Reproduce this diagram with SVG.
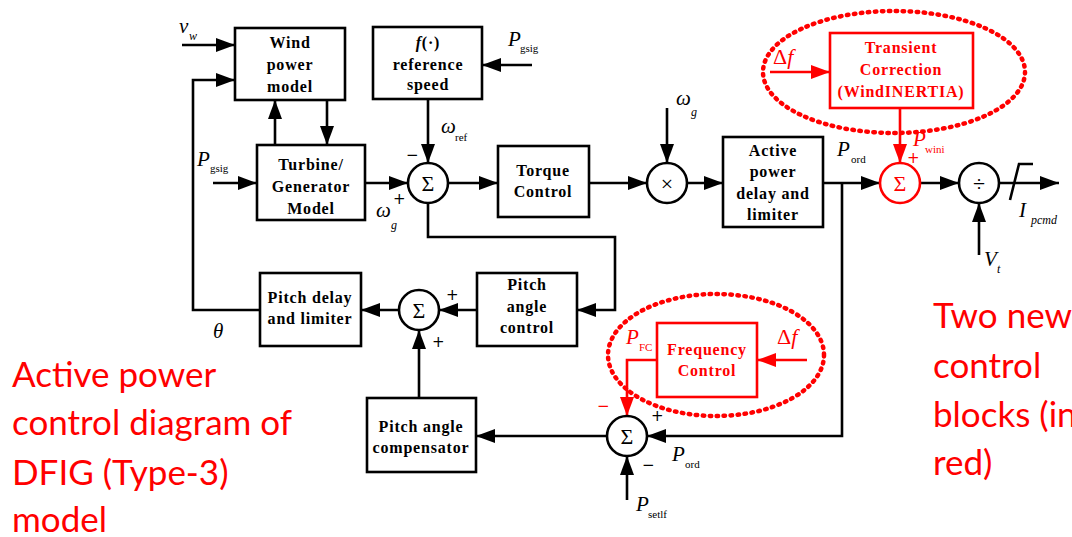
<svg xmlns="http://www.w3.org/2000/svg" width="1072" height="537" viewBox="0 0 1072 537">
<defs>
<marker id="ah" markerUnits="userSpaceOnUse" markerWidth="20" markerHeight="14" refX="19" refY="7" orient="auto"><path d="M0,0 L19,7 L0,14 z" fill="#000"/></marker>
<marker id="ahr" markerUnits="userSpaceOnUse" markerWidth="20" markerHeight="14" refX="19" refY="7" orient="auto"><path d="M0,0 L19,7 L0,14 z" fill="#f00"/></marker>
<style>
.box{fill:#fff;stroke:#000;stroke-width:2.6}
.rbox{fill:#fff;stroke:#f00;stroke-width:2.6}
.cir{fill:#fff;stroke:#000;stroke-width:2.6}
.rcir{fill:#fff;stroke:#f00;stroke-width:2.6}
.ln{fill:none;stroke:#000;stroke-width:2.6}
.rln{fill:none;stroke:#f00;stroke-width:2.6}
.ell{fill:none;stroke:#f00;stroke-width:4.5;stroke-dasharray:1.5 5.5;stroke-linecap:round}
.bt{font-family:"Liberation Serif",serif;font-weight:bold;font-size:16px;letter-spacing:0.8px;text-anchor:middle;fill:#000}
.rbt{font-family:"Liberation Serif",serif;font-weight:bold;font-size:16px;letter-spacing:0.8px;text-anchor:middle;fill:#f00}
.m{font-family:"Liberation Serif",serif;font-style:italic;font-size:21px;fill:#000}
.up{font-family:"Liberation Serif",serif;font-size:22px;fill:#f00}
.s{font-family:"Liberation Serif",serif;font-size:11px;fill:#000}
.si{font-family:"Liberation Serif",serif;font-style:italic;font-size:12px;fill:#000}
.sym{font-family:"Liberation Serif",serif;font-size:22px;text-anchor:middle;fill:#000}
.pm{font-family:"DejaVu Sans",sans-serif;font-size:15px;fill:#000}
.big{font-family:Lato,"Open Sans",sans-serif;font-size:35px;fill:#f00}
</style>
</defs>

<g id="connectors">
<line class="ln" x1="182" y1="45" x2="235" y2="45" marker-end="url(#ah)"/>
<polyline class="ln" points="260,310 193,310 193,80 235,80" marker-end="url(#ah)"/>
<line class="ln" x1="275" y1="145" x2="275" y2="100" marker-end="url(#ah)"/>
<line class="ln" x1="327" y1="100" x2="327" y2="145" marker-end="url(#ah)"/>
<line class="ln" x1="213" y1="183" x2="257" y2="183" marker-end="url(#ah)"/>
<line class="ln" x1="365" y1="183" x2="408" y2="183" marker-end="url(#ah)"/>
<line class="ln" x1="532" y1="65" x2="482" y2="65" marker-end="url(#ah)"/>
<line class="ln" x1="428" y1="99" x2="428" y2="163" marker-end="url(#ah)"/>
<line class="ln" x1="448" y1="183" x2="498" y2="183" marker-end="url(#ah)"/>
<polyline class="ln" points="428,203 428,237 615,237 615,310 577,310" marker-end="url(#ah)"/>
<line class="ln" x1="589" y1="183" x2="647" y2="183" marker-end="url(#ah)"/>
<line class="ln" x1="667" y1="108" x2="667" y2="163" marker-end="url(#ah)"/>
<line class="ln" x1="687" y1="183" x2="723" y2="183" marker-end="url(#ah)"/>
<line class="ln" x1="823" y1="183" x2="880" y2="183" marker-end="url(#ah)"/>
<polyline class="ln" points="842,183 842,436 647,436" marker-end="url(#ah)"/>
<line class="ln" x1="920" y1="183" x2="959" y2="183" marker-end="url(#ah)"/>
<line class="ln" x1="999" y1="183" x2="1059" y2="183" marker-end="url(#ah)"/>
<polyline class="ln" points="1010,200 1019,164 1033,164"/>
<line class="ln" x1="979" y1="255" x2="979" y2="203" marker-end="url(#ah)"/>
<line class="ln" x1="477" y1="310" x2="439" y2="310" marker-end="url(#ah)"/>
<line class="ln" x1="399" y1="310" x2="361" y2="310" marker-end="url(#ah)"/>
<line class="ln" x1="419" y1="398" x2="419" y2="330" marker-end="url(#ah)"/>
<line class="ln" x1="607" y1="436" x2="476" y2="436" marker-end="url(#ah)"/>
<line class="ln" x1="627" y1="500" x2="627" y2="456" marker-end="url(#ah)"/>
<line class="rln" x1="770" y1="72" x2="830" y2="72" marker-end="url(#ahr)"/>
<line class="rln" x1="900" y1="108" x2="900" y2="163" marker-end="url(#ahr)"/>
<line class="rln" x1="807" y1="360" x2="757" y2="360" marker-end="url(#ahr)"/>
<polyline class="rln" points="657,360 627,360 627,416" marker-end="url(#ahr)"/>
</g>

<g id="wind-power-model"><rect class="box" x="235" y="28" width="110" height="72"/>
<text class="bt" x="290" y="48">Wind</text><text class="bt" x="290" y="70">power</text><text class="bt" x="290" y="92">model</text></g>

<g id="reference-speed"><rect class="box" x="373" y="27" width="109" height="72"/>
<text class="bt" x="428" y="48"><tspan font-style="italic">f</tspan>(·)</text><text class="bt" x="428" y="70">reference</text><text class="bt" x="428" y="90">speed</text></g>

<g id="turbine-generator"><rect class="box" x="257" y="145" width="108" height="75"/>
<text class="bt" x="311" y="170">Turbine/</text><text class="bt" x="311" y="192">Generator</text><text class="bt" x="311" y="214">Model</text></g>

<g id="sum1"><circle class="cir" cx="428" cy="183" r="20"/><text class="sym" x="428" y="191">Σ</text></g>

<g id="torque-control"><rect class="box" x="498" y="146" width="91" height="71"/>
<text class="bt" x="543" y="176">Torque</text><text class="bt" x="543" y="197">Control</text></g>

<g id="multiply"><circle class="cir" cx="667" cy="183" r="20"/><text class="sym" x="667" y="191">×</text></g>

<g id="active-power-delay"><rect class="box" x="723" y="137" width="100" height="90"/>
<text class="bt" x="773" y="156">Active</text><text class="bt" x="773" y="177">power</text><text class="bt" x="773" y="199">delay and</text><text class="bt" x="773" y="220">limiter</text></g>

<g id="sum-wini"><circle class="rcir" cx="900" cy="183" r="20"/><text class="sym" x="900" y="191" style="fill:#f00">Σ</text></g>

<g id="divide"><circle class="cir" cx="979" cy="183" r="20"/><text class="sym" x="979" y="191">÷</text></g>

<g id="transient-correction"><ellipse class="ell" cx="894" cy="72" rx="131" ry="61"/>
<rect class="rbox" x="830" y="33" width="143" height="75"/>
<text class="rbt" x="901" y="53">Transient</text><text class="rbt" x="901" y="75">Correction</text><text class="rbt" x="901" y="97">(WindINERTIA)</text></g>

<g id="pitch-delay"><rect class="box" x="260" y="273" width="101" height="73"/>
<text class="bt" x="310" y="303">Pitch delay</text><text class="bt" x="310" y="324">and limiter</text></g>

<g id="pitch-sum"><circle class="cir" cx="419" cy="310" r="20"/><text class="sym" x="419" y="318">Σ</text></g>

<g id="pitch-angle-control"><rect class="box" x="477" y="273" width="100" height="73"/>
<text class="bt" x="527" y="290">Pitch</text><text class="bt" x="527" y="312">angle</text><text class="bt" x="527" y="333">control</text></g>

<g id="pitch-angle-compensator"><rect class="box" x="367" y="398" width="109" height="74"/>
<text class="bt" x="421" y="432">Pitch angle</text><text class="bt" x="421" y="453">compensator</text></g>

<g id="sum-bottom"><circle class="cir" cx="627" cy="436" r="20"/><text class="sym" x="627" y="444">Σ</text></g>

<g id="frequency-control"><ellipse class="ell" cx="716" cy="355" rx="108" ry="61"/>
<rect class="rbox" x="657" y="323" width="100" height="74"/>
<text class="rbt" x="707" y="355">Frequency</text><text class="rbt" x="707" y="376">Control</text></g>

<g id="labels">
<text class="m" x="179" y="33">v</text><text class="si" x="189" y="40">w</text>
<text class="m" x="508" y="46">P</text><text class="s" x="520" y="52">gsig</text>
<text class="m" x="197" y="166">P</text><text class="s" x="210" y="172">gsig</text>
<text class="m" x="441" y="133">ω</text><text class="s" x="455" y="141">ref</text>
<text class="pm" x="406" y="160">−</text>
<text class="m" x="376" y="217">ω</text><text class="si" x="391" y="229">g</text>
<text class="pm" x="393" y="204">+</text>
<text class="m" x="676" y="105">ω</text><text class="si" x="691" y="116">g</text>
<text class="m" x="837" y="156">P</text><text class="s" x="851" y="163">ord</text>
<text class="m" x="913" y="146" style="fill:#f00">P</text><text class="s" x="925" y="153" style="fill:#f00">wini</text>
<text class="pm" x="907" y="163" style="fill:#f00">+</text>
<text class="m" x="1019" y="217">I</text><text class="si" x="1031" y="224">pcmd</text>
<text class="m" x="984" y="266">V</text><text class="si" x="997" y="273">t</text>
<text class="m" x="213" y="338">θ</text>
<text class="pm" x="446" y="300">+</text>
<text class="pm" x="432" y="347">+</text>
<text class="up" x="773" y="64">Δ<tspan font-style="italic">f</tspan></text>
<text class="up" x="777" y="344">Δ<tspan font-style="italic">f</tspan></text>
<text class="m" x="626" y="344" style="fill:#f00">P</text><text class="s" x="639" y="351" style="fill:#f00">FC</text>
<text class="pm" x="597" y="411" style="fill:#f00">−</text>
<text class="pm" x="651" y="421">+</text>
<text class="pm" x="642" y="470">−</text>
<text class="m" x="672" y="461">P</text><text class="s" x="685" y="468">ord</text>
<text class="m" x="636" y="511">P</text><text class="s" x="648" y="518">setlf</text>
</g>

<g id="captions">
<text class="big" x="12" y="387">Active power</text>
<text class="big" x="12" y="435">control diagram of</text>
<text class="big" x="12" y="485">DFIG (Type-3)</text>
<text class="big" x="12" y="532">model</text>
<text class="big" x="933" y="328">Two new</text>
<text class="big" x="933" y="378">control</text>
<text class="big" x="933" y="427">blocks (in</text>
<text class="big" x="933" y="475">red)</text>
</g>
</svg>
